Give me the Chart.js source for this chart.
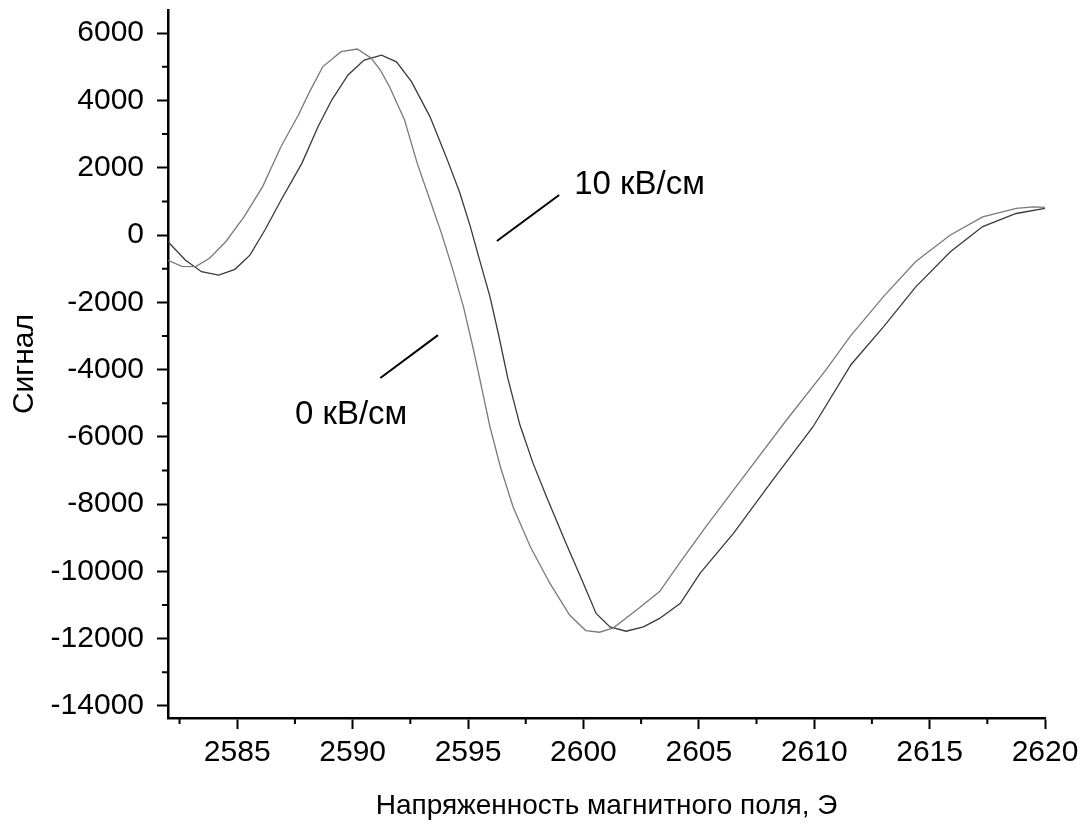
<!DOCTYPE html>
<html>
<head>
<meta charset="utf-8">
<script src="https://cdn.jsdelivr.net/npm/chart.js@4/dist/chart.umd.min.js"></script>
<style>
  html, body { margin: 0; padding: 0; background: #fff; }
  #wrap { width: 1081px; height: 829px; }
</style>
</head>
<body>
<div id="wrap"><canvas id="chart" width="1081" height="829"></canvas></div>
<script>
// Напряженность поля (Э) и сигнал, 0 кВ/см
const field0 = [2582.0, 2582.6, 2583.2, 2583.8, 2584.5, 2585.3, 2586.1, 2586.9, 2587.65, 2588.1,
  2588.7, 2589.5, 2590.2, 2590.8, 2591.2, 2591.6, 2592.25, 2592.8, 2593.35, 2593.85,
  2594.3, 2594.8, 2595.2, 2595.5, 2595.95, 2596.4, 2596.95, 2597.7, 2598.55, 2599.4,
  2600.1, 2600.7, 2601.3, 2602.4, 2603.3, 2604.25, 2605.3, 2607.05, 2608.8, 2610.5,
  2611.55, 2613.0, 2614.4, 2615.9, 2617.3, 2618.75, 2619.5, 2620.0];
const signal0 = [-750, -930, -940, -690, -200, 545, 1440, 2630, 3570, 4210,
  5000, 5450, 5530, 5260, 4900, 4410, 3420, 2130, 1040, 50,
  -940, -2130, -3300, -4250, -5700, -6890, -8080, -9270, -10360, -11300,
  -11760, -11810, -11680, -11100, -10600, -9670, -8680, -7090, -5500, -4020,
  -3020, -1830, -790, 0, 540, 790, 835, 820];

// 10 кВ/см
const field10 = [2582.0, 2582.75, 2583.45, 2584.2, 2584.9, 2585.55, 2586.2, 2586.9, 2587.8, 2588.5,
  2589.1, 2589.8, 2590.5, 2591.25, 2591.9, 2592.55, 2593.35, 2594.05, 2594.65, 2595.1,
  2595.5, 2595.95, 2596.32, 2596.72, 2597.25, 2597.82, 2598.4, 2599.25, 2600.0, 2600.55,
  2601.15, 2601.85, 2602.6, 2603.3, 2604.2, 2605.05, 2606.5, 2608.2, 2609.95, 2611.6,
  2613.0, 2614.4, 2615.9, 2617.3, 2618.75, 2620.0];
const signal10 = [-200, -740, -1090, -1190, -1020, -600, 150, 1040, 2130, 3220,
  4020, 4760, 5200, 5350, 5150, 4560, 3520, 2330, 1240, 250,
  -740, -1830, -2950, -4250, -5650, -6790, -7780, -9170, -10360, -11250,
  -11650, -11780, -11650, -11400, -10950, -10060, -8870, -7290, -5700, -3850,
  -2730, -1540, -500, 250, 640, 790];

// Подписи осей
const xTicks = [2585, 2590, 2595, 2600, 2605, 2610, 2615, 2620];
const xMinor = [2582.5, 2587.5, 2592.5, 2597.5, 2602.5, 2607.5, 2612.5, 2617.5];
const yTicks = [-14000, -12000, -10000, -8000, -6000, -4000, -2000, 0, 2000, 4000, 6000];
const yMinor = [-13000, -11000, -9000, -7000, -5000, -3000, -1000, 1000, 3000, 5000];

// Выноски (в координатах данных)
const labelText = ['10 кВ/см', '0 кВ/см'];
const labelAt = [[2599.6, 1490], [2587.5, -5350]];
const leaderFrom = [[2596.25, -180], [2591.2, -4250]];
const leaderTo = [[2598.95, 1190], [2593.7, -2975]];

const FONT = "'Liberation Sans', Arial, sans-serif";

const minorTicks = {
  id: 'minorTicks',
  afterDraw(chart) {
    const { ctx, chartArea, scales: { x, y } } = chart;
    ctx.save();
    ctx.strokeStyle = '#000';
    ctx.lineWidth = 2;
    ctx.beginPath();
    xMinor.forEach(v => {
      const px = x.getPixelForValue(v);
      ctx.moveTo(px, chartArea.bottom);
      ctx.lineTo(px, chartArea.bottom + 6);
    });
    yMinor.forEach(v => {
      const py = y.getPixelForValue(v);
      ctx.moveTo(chartArea.left, py);
      ctx.lineTo(chartArea.left - 6, py);
    });
    ctx.stroke();
    ctx.restore();
  }
};

const callouts = {
  id: 'callouts',
  afterDraw(chart) {
    const { ctx, scales: { x, y } } = chart;
    ctx.save();
    ctx.strokeStyle = '#000';
    ctx.lineWidth = 2;
    leaderFrom.forEach((p, i) => {
      ctx.beginPath();
      ctx.moveTo(x.getPixelForValue(p[0]), y.getPixelForValue(p[1]));
      ctx.lineTo(x.getPixelForValue(leaderTo[i][0]), y.getPixelForValue(leaderTo[i][1]));
      ctx.stroke();
    });
    ctx.fillStyle = '#000';
    ctx.font = '33px ' + FONT;
    ctx.textAlign = 'left';
    ctx.textBaseline = 'middle';
    labelText.forEach((t, i) => {
      ctx.fillText(t, x.getPixelForValue(labelAt[i][0]), y.getPixelForValue(labelAt[i][1]));
    });
    ctx.restore();
  }
};

const toPoints = (xs, ys) => xs.map((f, i) => ({ x: f, y: ys[i] }));

new Chart(document.getElementById('chart'), {
  type: 'line',
  data: {
    datasets: [
      {
        label: '0 кВ/см',
        data: toPoints(field0, signal0),
        borderColor: '#7a7a7a',
        borderWidth: 1.3,
        pointRadius: 0,
        tension: 0
      },
      {
        label: '10 кВ/см',
        data: toPoints(field10, signal10),
        borderColor: '#3a3a3a',
        borderWidth: 1.3,
        pointRadius: 0,
        tension: 0
      }
    ]
  },
  options: {
    responsive: false,
    animation: false,
    layout: { padding: { top: 10, right: 36, left: 0, bottom: 0 } },
    plugins: {
      legend: { display: false },
      tooltip: { enabled: false }
    },
    scales: {
      x: {
        type: 'linear',
        min: 2582,
        max: 2620,
        afterBuildTicks: s => { s.ticks = xTicks.map(v => ({ value: v })); },
        afterFit: s => { s.height = 111; s.paddingLeft = 0; s.paddingRight = 0; },
        border: { display: true, color: '#000', width: 2.5 },
        grid: { drawOnChartArea: false, drawTicks: true, tickLength: 11, tickColor: '#000', tickWidth: 2 },
        ticks: {
          color: '#000',
          font: { family: FONT, size: 30 },
          padding: 6,
          maxRotation: 0,
          callback: v => String(v)
        },
        title: {
          display: true,
          text: 'Напряженность магнитного поля, Э',
          color: '#000',
          font: { family: FONT, size: 28 },
          padding: { top: 0, bottom: 6 }
        }
      },
      y: {
        type: 'linear',
        min: -14360,
        max: 6690,
        afterBuildTicks: s => { s.ticks = yTicks.map(v => ({ value: v })); },
        afterFit: s => { s.width = 168; s.paddingTop = 0; s.paddingBottom = 0; },
        border: { display: true, color: '#000', width: 2.5 },
        grid: { drawOnChartArea: false, drawTicks: true, tickLength: 11, tickColor: '#000', tickWidth: 2 },
        ticks: {
          color: '#000',
          font: { family: FONT, size: 30 },
          padding: 13,
          callback: v => String(v)
        },
        title: {
          display: true,
          text: 'Сигнал',
          color: '#000',
          font: { family: FONT, size: 30 },
          padding: { top: 7, bottom: 0 }
        }
      }
    }
  },
  plugins: [minorTicks, callouts]
});
</script>
</body>
</html>
